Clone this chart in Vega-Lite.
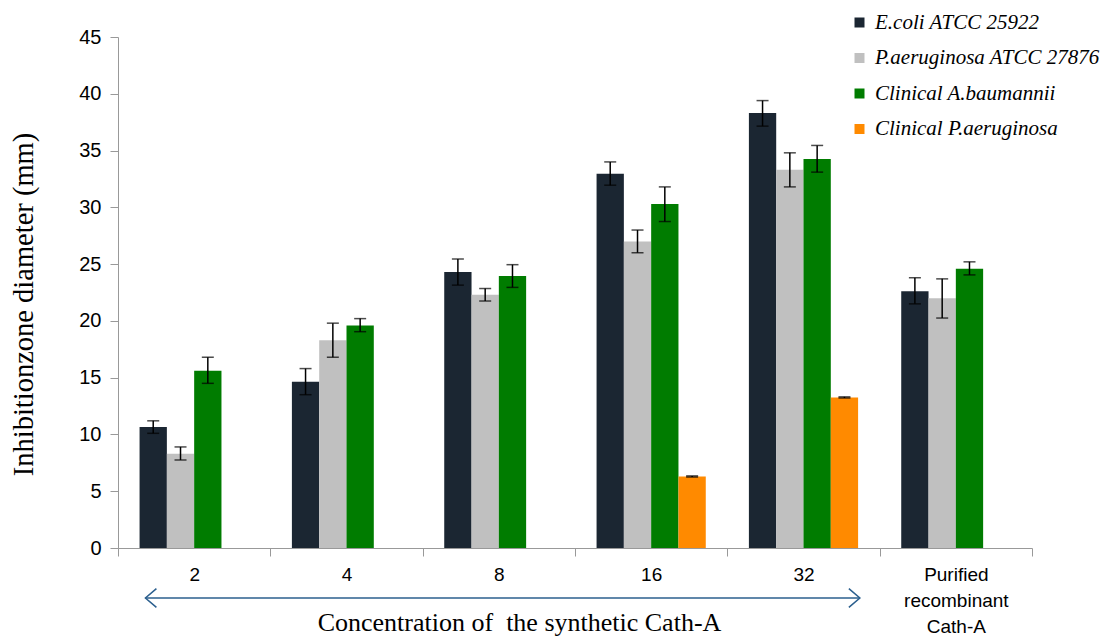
{
  "$schema": "https://vega.github.io/schema/vega-lite/v6.json",
  "width": 914,
  "height": 511,
  "autosize": {"type": "none"},
  "padding": {"left": 118, "top": 37, "right": 70, "bottom": 89},
  "background": "white",
  "config": {"view": {"stroke": null}, "axis": {"grid": false}},
  "datasets": {
    "bars": [
      {"group": "2", "series": "E.coli ATCC 25922", "value": 10.65, "lo": 10.1, "hi": 11.2},
      {"group": "2", "series": "P.aeruginosa ATCC 27876", "value": 8.3, "lo": 7.75, "hi": 8.9},
      {"group": "2", "series": "Clinical A.baumannii", "value": 15.6, "lo": 14.5, "hi": 16.8},
      {"group": "4", "series": "E.coli ATCC 25922", "value": 14.65, "lo": 13.5, "hi": 15.8},
      {"group": "4", "series": "P.aeruginosa ATCC 27876", "value": 18.3, "lo": 16.8, "hi": 19.8},
      {"group": "4", "series": "Clinical A.baumannii", "value": 19.6, "lo": 19.05, "hi": 20.2},
      {"group": "8", "series": "E.coli ATCC 25922", "value": 24.3, "lo": 23.15, "hi": 25.45},
      {"group": "8", "series": "P.aeruginosa ATCC 27876", "value": 22.3, "lo": 21.75, "hi": 22.85},
      {"group": "8", "series": "Clinical A.baumannii", "value": 23.95, "lo": 22.95, "hi": 24.95},
      {"group": "16", "series": "E.coli ATCC 25922", "value": 32.95, "lo": 31.95, "hi": 34.0},
      {"group": "16", "series": "P.aeruginosa ATCC 27876", "value": 27.0, "lo": 26.0, "hi": 28.0},
      {"group": "16", "series": "Clinical A.baumannii", "value": 30.3, "lo": 28.75, "hi": 31.8},
      {"group": "16", "series": "Clinical P.aeruginosa", "value": 6.3, "lo": 6.25, "hi": 6.35},
      {"group": "32", "series": "E.coli ATCC 25922", "value": 38.3, "lo": 37.15, "hi": 39.4},
      {"group": "32", "series": "P.aeruginosa ATCC 27876", "value": 33.3, "lo": 31.8, "hi": 34.8},
      {"group": "32", "series": "Clinical A.baumannii", "value": 34.25, "lo": 33.1, "hi": 35.45},
      {"group": "32", "series": "Clinical P.aeruginosa", "value": 13.26, "lo": 13.21, "hi": 13.31},
      {"group": "Purified recombinant Cath-A", "series": "E.coli ATCC 25922", "value": 22.6, "lo": 21.5, "hi": 23.8},
      {"group": "Purified recombinant Cath-A", "series": "P.aeruginosa ATCC 27876", "value": 22.0, "lo": 20.25, "hi": 23.7},
      {"group": "Purified recombinant Cath-A", "series": "Clinical A.baumannii", "value": 24.6, "lo": 24.05, "hi": 25.2}
    ],
    "arrow": [{"x": 0.18, "x2": 4.87, "y": -4.4}],
    "headL": [{"x": 0.18, "y": -4.4}],
    "headR": [{"x": 4.87, "y": -4.4}]
  },
  "layer": [
    {
      "data": {"name": "bars"},
      "encoding": {
        "x": {
          "field": "group", "type": "nominal",
          "sort": ["2", "4", "8", "16", "32", "Purified recombinant Cath-A"],
          "scale": {"paddingInner": 0, "paddingOuter": 0},
          "axis": {
            "title": "Concentration of\u00a0 the synthetic Cath-A",
            "titleFont": "Liberation Serif", "titleFontSize": 26, "titleFontWeight": "normal", "titleColor": "black",
            "titleX": 401, "titleY": 74, "titleAlign": "center", "titleBaseline": "middle", "titleAnchor": null,
            "labelAngle": 0, "labelFont": "Liberation Sans", "labelFontSize": 19, "labelColor": "black",
            "labelPadding": 9, "labelLineHeight": 26,
            "tickBand": "extent", "tickSize": 8, "tickColor": "#999999", "domainColor": "#999999",
            "labelExpr": "datum.value == 'Purified recombinant Cath-A' ? ['Purified','recombinant','Cath-A'] : datum.value"
          }
        },
        "xOffset": {
          "field": "series", "type": "nominal",
          "scale": {"domain": ["E.coli ATCC 25922", "P.aeruginosa ATCC 27876", "Clinical A.baumannii", "Clinical P.aeruginosa"], "paddingInner": 0, "paddingOuter": 0.79}
        }
      },
      "layer": [
        {
          "mark": {"type": "bar"},
          "encoding": {
            "y": {
              "field": "value", "type": "quantitative",
              "scale": {"domain": [0, 45]},
              "axis": {
                "title": "Inhibitionzone diameter (mm)",
                "titleFont": "Liberation Serif", "titleFontSize": 28.5, "titleFontWeight": "normal", "titleColor": "black",
                "titleX": -95, "titleY": 267, "titleAngle": -90, "titleAlign": "center", "titleBaseline": "middle",
                "values": [0, 5, 10, 15, 20, 25, 30, 35, 40, 45],
                "labelFont": "Liberation Sans", "labelFontSize": 20, "labelColor": "black", "labelPadding": 9,
                "tickSize": 8, "tickColor": "#999999", "domainColor": "#999999"
              }
            },
            "color": {
              "field": "series", "type": "nominal",
              "scale": {
                "domain": ["E.coli ATCC 25922", "P.aeruginosa ATCC 27876", "Clinical A.baumannii", "Clinical P.aeruginosa"],
                "range": ["#1b2632", "#c0c0c0", "#007c00", "#ff8a00"]
              },
              "legend": {
                "title": null, "orient": "none", "legendX": 731, "legendY": -25, "padding": 0,
                "symbolType": "square", "symbolSize": 100, "symbolStrokeWidth": 0,
                "labelFont": "Liberation Serif", "labelFontStyle": "italic", "labelFontSize": 21, "labelColor": "black",
                "labelOffset": 5, "rowPadding": 13.5, "labelLimit": 400
              }
            }
          }
        },
        {
          "mark": {"type": "rule", "color": "black", "strokeWidth": 1.5},
          "encoding": {"y": {"field": "lo", "type": "quantitative"}, "y2": {"field": "hi"}}
        },
        {
          "mark": {"type": "tick", "color": "black", "size": 12, "thickness": 1.5},
          "encoding": {"y": {"field": "lo", "type": "quantitative"}}
        },
        {
          "mark": {"type": "tick", "color": "black", "size": 12, "thickness": 1.5},
          "encoding": {"y": {"field": "hi", "type": "quantitative"}}
        }
      ]
    },
    {
      "data": {"name": "arrow"},
      "mark": {"type": "rule", "color": "#2b5f8e", "strokeWidth": 1.5},
      "encoding": {
        "x": {"field": "x", "type": "quantitative", "scale": {"domain": [0, 6]}, "axis": null},
        "x2": {"field": "x2"},
        "y": {"field": "y", "type": "quantitative", "scale": {"domain": [0, 45]}, "axis": null}
      }
    },
    {
      "data": {"name": "headL"},
      "mark": {"type": "point", "shape": "M1,-0.85L0,0L1,0.85", "size": 484, "filled": false, "color": "#2b5f8e", "strokeWidth": 1.5, "opacity": 1},
      "encoding": {
        "x": {"field": "x", "type": "quantitative", "scale": {"domain": [0, 6]}, "axis": null},
        "y": {"field": "y", "type": "quantitative", "scale": {"domain": [0, 45]}, "axis": null}
      }
    },
    {
      "data": {"name": "headR"},
      "mark": {"type": "point", "shape": "M-1,-0.85L0,0L-1,0.85", "size": 484, "filled": false, "color": "#2b5f8e", "strokeWidth": 1.5, "opacity": 1},
      "encoding": {
        "x": {"field": "x", "type": "quantitative", "scale": {"domain": [0, 6]}, "axis": null},
        "y": {"field": "y", "type": "quantitative", "scale": {"domain": [0, 45]}, "axis": null}
      }
    }
  ],
  "resolve": {"scale": {"x": "independent", "y": "independent"}}
}
